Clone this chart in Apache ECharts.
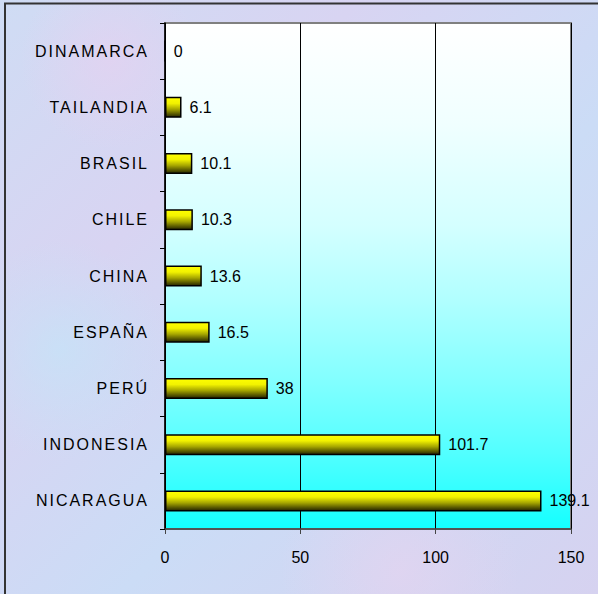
<!DOCTYPE html>
<html>
<head>
<meta charset="utf-8">
<script src="https://cdn.jsdelivr.net/npm/echarts@6/dist/echarts.min.js"></script>
<style>
html,body{margin:0;padding:0;background:#fff;}
#c{width:598px;height:594px;}
#c text[fill="#010101"]{letter-spacing:2px;}
</style>
</head>
<body>
<div id="c"></div>
<script>
var categories = ['NICARAGUA','INDONESIA','PERÚ','ESPAÑA','CHINA','CHILE','BRASIL','TAILANDIA','DINAMARCA'];
var values = [139.1, 101.7, 38, 16.5, 13.6, 10.3, 10.1, 6.1, 0];
var xTicks = [0, 50, 100, 150];

var FONT = "'Liberation Sans', Arial, sans-serif";
var chart = echarts.init(document.getElementById('c'), null, {renderer: 'svg'});

var option = {
  animation: false,
  backgroundColor: {
    type: 'linear', x: 0, y: 0, x2: 1, y2: 1,
    colorStops: [
      {offset: 0, color: '#cfdcf4'},
      {offset: 0.3, color: '#d8d4f2'},
      {offset: 0.6, color: '#cbdcf6'},
      {offset: 1, color: '#d6d2f0'}
    ]
  },
  graphic: [
    {type: 'circle', shape: {cx: 110, cy: 60, r: 90}, z: -10, silent: true,
     style: {fill: {type: 'radial', x: 0.5, y: 0.5, r: 0.5, colorStops: [{offset: 0, color: 'rgba(232,208,240,0.6)'}, {offset: 1, color: 'rgba(232,208,240,0)'}]}}},
    {type: 'circle', shape: {cx: 60, cy: 350, r: 110}, z: -10, silent: true,
     style: {fill: {type: 'radial', x: 0.5, y: 0.5, r: 0.5, colorStops: [{offset: 0, color: 'rgba(196,228,248,0.7)'}, {offset: 1, color: 'rgba(196,228,248,0)'}]}}},
    {type: 'circle', shape: {cx: 400, cy: 570, r: 120}, z: -10, silent: true,
     style: {fill: {type: 'radial', x: 0.5, y: 0.5, r: 0.5, colorStops: [{offset: 0, color: 'rgba(236,210,238,0.5)'}, {offset: 1, color: 'rgba(236,210,238,0)'}]}}},
    {type: 'line', shape: {x1: 4, y1: 3.5, x2: 598, y2: 3.5}, silent: true, style: {stroke: '#333', lineWidth: 2}},
    {type: 'line', shape: {x1: 5, y1: 3, x2: 5, y2: 594}, silent: true, style: {stroke: '#333', lineWidth: 2}}
  ],
  grid: {
    left: 165, right: 27, top: 23, bottom: 65,
    show: true,
    borderColor: '#808080', borderWidth: 2,
    backgroundColor: {
      type: 'linear', x: 0, y: 0, x2: 0, y2: 1,
      colorStops: [
        {offset: 0, color: '#ffffff'},
        {offset: 0.2, color: '#f0ffff'},
        {offset: 0.4, color: '#d4ffff'},
        {offset: 0.55, color: '#b0ffff'},
        {offset: 0.7, color: '#84ffff'},
        {offset: 0.85, color: '#52ffff'},
        {offset: 1, color: '#14ffff'}
      ]
    }
  },
  xAxis: {
    type: 'value', min: xTicks[0], max: xTicks[xTicks.length - 1], interval: 50,
    axisLine: {show: true, lineStyle: {color: '#444', width: 1.5}},
    axisTick: {show: true, length: 5, lineStyle: {color: '#444'}},
    splitLine: {show: true, lineStyle: {color: '#000', width: 1}},
    axisLabel: {color: '#000', fontSize: 16, fontFamily: FONT, margin: 20}
  },
  yAxis: {
    type: 'category', data: categories,
    axisLine: {show: true, lineStyle: {color: '#000', width: 1.5}},
    axisTick: {show: true, length: 5, lineStyle: {color: '#000'}},
    axisLabel: {color: '#010101', fontSize: 16, fontFamily: FONT, margin: 16}
  },
  series: [{
    type: 'bar', data: values, barWidth: 21,
    itemStyle: {
      borderColor: '#000', borderWidth: 1.5,
      color: {
        type: 'linear', x: 0, y: 0, x2: 0, y2: 1,
        colorStops: [
          {offset: 0, color: '#ffff00'},
          {offset: 0.3, color: '#f2f200'},
          {offset: 0.6, color: '#a6a600'},
          {offset: 0.85, color: '#555500'},
          {offset: 1, color: '#262600'}
        ]
      }
    },
    label: {show: true, position: 'right', distance: 8, color: '#000', fontSize: 16, fontFamily: FONT}
  }]
};
chart.setOption(option);
</script>
</body>
</html>
